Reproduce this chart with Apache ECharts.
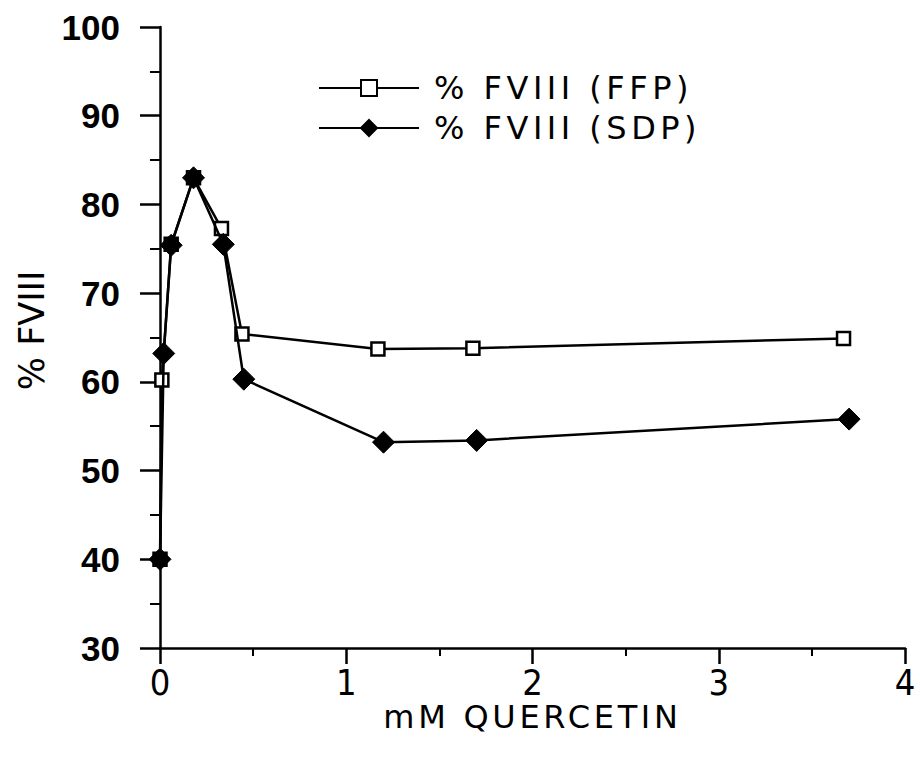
<!DOCTYPE html>
<html><head><meta charset="utf-8">
<script src="https://cdn.jsdelivr.net/npm/echarts@6/dist/echarts.min.js"></script>
<style>html,body{margin:0;padding:0;background:#fff}#c{width:920px;height:757px}</style>
</head><body><div id="c"></div>
<script>
const seriesNames = ['% FVIII (FFP)', '% FVIII (SDP)'];
const ffpX = [0, 0.01, 0.06, 0.18, 0.33, 0.44, 1.17, 1.68, 3.67];
const ffpY = [40, 60.2, 75.5, 83.0, 77.3, 65.4, 63.7, 63.8, 64.9];
const sdpX = [0, 0.02, 0.06, 0.18, 0.34, 0.45, 1.20, 1.70, 3.70];
const sdpY = [40, 63.2, 75.4, 83.0, 75.5, 60.3, 53.2, 53.4, 55.8];
const xTicks = [0, 1, 2, 3, 4];
const yTicks = [30, 40, 50, 60, 70, 80, 90, 100];

const font = 'DejaVu Sans';
const numFont = "'Liberation Sans Narrow', 'DejaVu Sans Condensed', 'Liberation Sans', sans-serif";
const chart = echarts.init(document.getElementById('c'), null, {renderer: 'svg'});
chart.setOption({
  animation: false,
  backgroundColor: '#fff',
  grid: {left: 160, right: 15, top: 27, bottom: 109},
  legend: {
    left: 313, top: 67, orient: 'vertical', itemWidth: 100, itemHeight: 20, itemGap: 8,
    textStyle: {fontFamily: font, fontSize: 32, color: '#000', padding: [0,0,0,10]},
    data: seriesNames
  },
  xAxis: {
    type: 'value', min: 0, max: 4, interval: 1,
    name: 'mM QUERCETIN', nameLocation: 'middle', nameGap: 53, nameMoveOverlap: false,
    nameTextStyle: {fontFamily: font, fontSize: 32, color: '#000'},
    axisLine: {lineStyle: {color: '#000', width: 2.5}},
    axisTick: {show: true, inside: false, length: 16, lineStyle: {color: '#000', width: 2.5}},
    minorTick: {show: true, splitNumber: 2, length: 8, lineStyle: {color: '#000', width: 2}},
    axisLabel: {fontFamily: numFont, fontSize: 36, color: '#000', margin: 16,
      formatter: v => xTicks.includes(v) ? String(v) : ''},
    splitLine: {show: false}
  },
  yAxis: {
    type: 'value', min: 30, max: 100, interval: 10,
    name: '% FVIII', nameLocation: 'middle', nameGap: 111, nameRotate: 90, nameMoveOverlap: false,
    nameTextStyle: {fontFamily: font, fontSize: 35, color: '#000', padding: [0, 0, 0, 14]},
    axisLine: {lineStyle: {color: '#000', width: 2.5}},
    axisTick: {show: true, inside: false, length: 20, lineStyle: {color: '#000', width: 2.5}},
    minorTick: {show: true, splitNumber: 2, length: 10, lineStyle: {color: '#000', width: 2}},
    axisLabel: {fontFamily: "'Liberation Sans', sans-serif", fontWeight: 'bold', fontSize: 35, color: '#000', margin: 40,
      formatter: v => yTicks.includes(v) ? String(v) : ''},
    splitLine: {show: false}
  },
  series: [
    {
      name: seriesNames[0], type: 'line', z: 3,
      data: ffpX.map((x, i) => [x, ffpY[i]]),
      symbol: 'rect', symbolSize: 13,
      lineStyle: {color: '#000', width: 2.5},
      itemStyle: {color: '#fff', borderColor: '#000', borderWidth: 2.5}
    },
    {
      name: seriesNames[1], type: 'line', z: 4,
      data: sdpX.map((x, i) => [x, sdpY[i]]),
      symbol: 'diamond', symbolSize: [22, 22],
      lineStyle: {color: '#000', width: 2.5},
      itemStyle: {color: '#000', borderColor: '#000', borderWidth: 1}
    }
  ]
});
// widen letter spacing of the typewriter-style captions
const spacing = {'% FVIII (FFP)': '4.5px', '% FVIII (SDP)': '4.5px', 'mM QUERCETIN': '3.7px'};
document.querySelectorAll('#c svg text').forEach(t => {
  const s = spacing[t.textContent];
  if (s) t.style.letterSpacing = s;
});
</script></body></html>
